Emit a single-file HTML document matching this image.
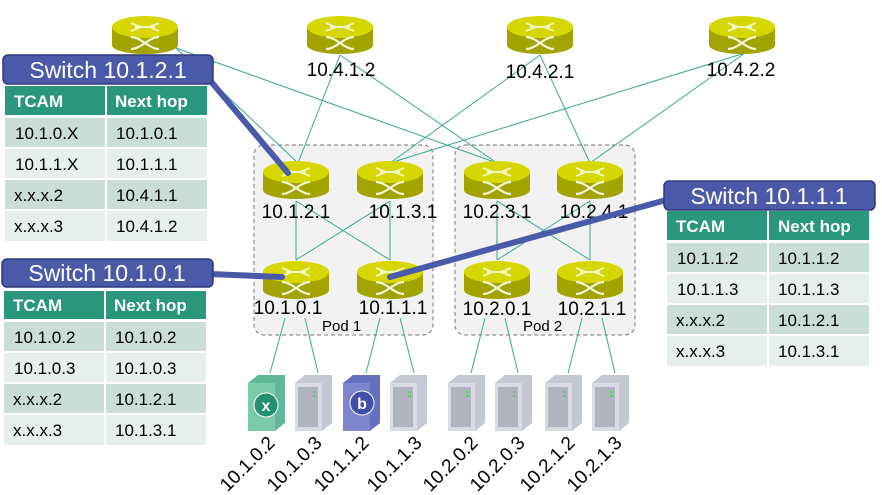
<!DOCTYPE html>
<html><head><meta charset="utf-8"><style>
html,body{margin:0;padding:0;background:#fff;width:882px;height:495px;overflow:hidden}
svg{display:block;font-family:"Liberation Sans",sans-serif}
</style></head><body>
<svg width="882" height="495" viewBox="0 0 882 495" xmlns="http://www.w3.org/2000/svg">
<defs>
<g id="switch">
<path d="M-33,-8 L-33,10 A33,9 0 0 0 33,10 L33,-8 Z" fill="#a3a300"/>
<ellipse cx="0" cy="-8" rx="33" ry="11" fill="#d6d600"/>
<path d="M-14,-12 L-4,-8 L-14,-4 M14,-12 L4,-8 L14,-4 M-10,-8 L10,-8" stroke="#f4f4c0" stroke-width="2" fill="none"/>
<path d="M-14,2 C-4,2 4,14 14,14 M-14,14 C-4,14 4,2 14,2" stroke="#f4f4e0" stroke-width="2.2" fill="none"/>
</g>
<g id="server">
<path d="M0,8 L10,0 L37,0 L37,48 L27,56 L0,56 Z" fill="#c4c8d2"/>
<rect x="0" y="8" width="27" height="48" fill="#d8dbe3"/>
<rect x="3" y="12" width="20" height="40" fill="#b0b4c0"/>
<rect x="18" y="16" width="3" height="2" fill="#6c6"/><rect x="18" y="20" width="3" height="2" fill="#6c6"/>
</g>
</defs>

<rect x="254" y="145" width="179" height="190" rx="10" fill="#f2f2f2" stroke="#777" stroke-dasharray="4,3"/>
<rect x="455" y="145" width="180" height="190" rx="10" fill="#f2f2f2" stroke="#777" stroke-dasharray="4,3"/>
<text x="322" y="331" font-size="15">Pod 1</text>
<text x="523" y="331" font-size="15">Pod 2</text>

<g stroke="#3aa892" stroke-width="1" fill="none">
<line x1="176" y1="48" x2="298" y2="163"/>
<line x1="176" y1="48" x2="497" y2="163"/>
<line x1="340" y1="55" x2="298" y2="163"/>
<line x1="340" y1="55" x2="497" y2="163"/>
<line x1="540" y1="55" x2="390" y2="163"/>
<line x1="540" y1="55" x2="590" y2="163"/>
<line x1="745" y1="53" x2="390" y2="163"/>
<line x1="745" y1="53" x2="590" y2="163"/>
<line x1="296" y1="201" x2="296" y2="260"/><line x1="390" y1="201" x2="390" y2="260"/>
<line x1="296" y1="201" x2="390" y2="260"/><line x1="390" y1="201" x2="296" y2="260"/>
<line x1="497" y1="201" x2="497" y2="260"/><line x1="590" y1="201" x2="590" y2="260"/>
<line x1="497" y1="201" x2="590" y2="260"/><line x1="590" y1="201" x2="497" y2="260"/>
<line x1="285" y1="318" x2="270" y2="373"/><line x1="305" y1="318" x2="318" y2="373"/>
<line x1="380" y1="318" x2="366" y2="373"/><line x1="400" y1="318" x2="414" y2="373"/>
<line x1="485" y1="318" x2="471" y2="373"/><line x1="505" y1="318" x2="518" y2="373"/>
<line x1="582" y1="318" x2="568" y2="373"/><line x1="602" y1="318" x2="615" y2="373"/>
</g>

<use href="#switch" x="145" y="35"/>
<use href="#switch" x="340" y="35"/>
<use href="#switch" x="540" y="35"/>
<use href="#switch" x="742" y="35"/>
<use href="#switch" x="296" y="180"/>
<use href="#switch" x="390" y="180"/>
<use href="#switch" x="497" y="180"/>
<use href="#switch" x="590" y="180"/>
<use href="#switch" x="296" y="280"/>
<use href="#switch" x="390" y="280"/>
<use href="#switch" x="497" y="280"/>
<use href="#switch" x="590" y="280"/>

<g font-size="19" fill="#000" text-anchor="middle">
<text x="341" y="76">10.4.1.2</text>
<text x="540" y="78">10.4.2.1</text>
<text x="741" y="76">10.4.2.2</text>
<text x="296" y="218">10.1.2.1</text>
<text x="403" y="218">10.1.3.1</text>
<text x="497" y="218">10.2.3.1</text>
<text x="594" y="218">10.2.4.1</text>
<text x="288" y="314">10.1.0.1</text>
<text x="393" y="314">10.1.1.1</text>
<text x="497" y="315">10.2.0.1</text>
<text x="592" y="315">10.2.1.1</text>
</g>

<g>
<path d="M248,383 L258,375 L285,375 L285,423 L275,431 L248,431 Z" fill="#5fb896"/>
<rect x="248" y="383" width="27" height="48" fill="#7ccaa9"/>
<circle cx="266" cy="405" r="12" fill="#259070" stroke="#fff" stroke-width="1"/>
<text x="266" y="411" font-size="16" font-weight="bold" fill="#fff" text-anchor="middle">x</text>
<use href="#server" x="295" y="375"/>
<path d="M343,383 L353,375 L380,375 L380,423 L370,431 L343,431 Z" fill="#6670c0"/>
<rect x="343" y="383" width="27" height="48" fill="#7d86cc"/>
<circle cx="362" cy="403" r="12" fill="#4050a8" stroke="#fff" stroke-width="1"/>
<text x="362" y="409" font-size="16" font-weight="bold" fill="#fff" text-anchor="middle">b</text>
<use href="#server" x="390" y="375"/>
<use href="#server" x="448" y="375"/>
<use href="#server" x="495" y="375"/>
<use href="#server" x="545" y="375"/>
<use href="#server" x="592" y="375"/>
</g>
<g font-size="19" fill="#000" text-anchor="end">
<text transform="translate(276,444) rotate(-45)">10.1.0.2</text>
<text transform="translate(323,444) rotate(-45)">10.1.0.3</text>
<text transform="translate(370,444) rotate(-45)">10.1.1.2</text>
<text transform="translate(423,444) rotate(-45)">10.1.1.3</text>
<text transform="translate(479,444) rotate(-45)">10.2.0.2</text>
<text transform="translate(526,444) rotate(-45)">10.2.0.3</text>
<text transform="translate(576,444) rotate(-45)">10.2.1.2</text>
<text transform="translate(623,444) rotate(-45)">10.2.1.3</text>
</g>

<g stroke="#4a5aa8" stroke-width="6" stroke-linecap="round">
<line x1="208" y1="78" x2="288" y2="173"/>
<line x1="210" y1="274" x2="282" y2="277"/>
<line x1="666" y1="200" x2="390" y2="277"/>
</g>

<g font-size="17">
<rect x="3" y="55" width="210" height="29" rx="5" fill="#4a5aa8" stroke="#2f3a78" stroke-width="1.5"/>
<text x="108" y="78" font-size="23" fill="#fff" text-anchor="middle">Switch 10.1.2.1</text>
<rect x="5" y="86" width="202" height="29" fill="#2a967c"/>
<rect x="5" y="118" width="202" height="29" fill="#cbddd7"/>
<rect x="5" y="149" width="202" height="29" fill="#e7efec"/>
<rect x="5" y="180" width="202" height="29" fill="#cbddd7"/>
<rect x="5" y="211" width="202" height="30" fill="#e7efec"/>
<line x1="106" y1="86" x2="106" y2="241" stroke="#fff" stroke-width="2"/>
<text x="14" y="107" font-weight="bold" fill="#fff">TCAM</text><text x="115" y="107" font-weight="bold" fill="#fff">Next hop</text>
<text x="15" y="139">10.1.0.X</text><text x="116" y="139">10.1.0.1</text>
<text x="15" y="170">10.1.1.X</text><text x="116" y="170">10.1.1.1</text>
<text x="14" y="201">x.x.x.2</text><text x="116" y="201">10.4.1.1</text>
<text x="14" y="232">x.x.x.3</text><text x="116" y="232">10.4.1.2</text>

<rect x="2" y="259" width="211" height="28" rx="5" fill="#4a5aa8" stroke="#2f3a78" stroke-width="1.5"/>
<text x="107" y="281" font-size="23" fill="#fff" text-anchor="middle">Switch 10.1.0.1</text>
<rect x="4" y="291" width="202" height="28" fill="#2a967c"/>
<rect x="4" y="322" width="202" height="29" fill="#cbddd7"/>
<rect x="4" y="353" width="202" height="29" fill="#e7efec"/>
<rect x="4" y="384" width="202" height="29" fill="#cbddd7"/>
<rect x="4" y="415" width="202" height="30" fill="#e7efec"/>
<line x1="105" y1="291" x2="105" y2="445" stroke="#fff" stroke-width="2"/>
<text x="13" y="311" font-weight="bold" fill="#fff">TCAM</text><text x="114" y="311" font-weight="bold" fill="#fff">Next hop</text>
<text x="14" y="343">10.1.0.2</text><text x="115" y="343">10.1.0.2</text>
<text x="14" y="374">10.1.0.3</text><text x="115" y="374">10.1.0.3</text>
<text x="13" y="405">x.x.x.2</text><text x="115" y="405">10.1.2.1</text>
<text x="13" y="436">x.x.x.3</text><text x="115" y="436">10.1.3.1</text>

<rect x="664" y="181" width="211" height="29" rx="5" fill="#4a5aa8" stroke="#2f3a78" stroke-width="1.5"/>
<text x="769" y="204" font-size="23" fill="#fff" text-anchor="middle">Switch 10.1.1.1</text>
<rect x="667" y="211" width="202" height="29" fill="#2a967c"/>
<rect x="667" y="243" width="202" height="29" fill="#cbddd7"/>
<rect x="667" y="274" width="202" height="29" fill="#e7efec"/>
<rect x="667" y="305" width="202" height="29" fill="#cbddd7"/>
<rect x="667" y="336" width="202" height="30" fill="#e7efec"/>
<line x1="768" y1="211" x2="768" y2="366" stroke="#fff" stroke-width="2"/>
<text x="676" y="232" font-weight="bold" fill="#fff">TCAM</text><text x="778" y="232" font-weight="bold" fill="#fff">Next hop</text>
<text x="677" y="264">10.1.1.2</text><text x="778" y="264">10.1.1.2</text>
<text x="677" y="295">10.1.1.3</text><text x="778" y="295">10.1.1.3</text>
<text x="676" y="326">x.x.x.2</text><text x="778" y="326">10.1.2.1</text>
<text x="676" y="357">x.x.x.3</text><text x="778" y="357">10.1.3.1</text>
</g>
</svg>
</body></html>
